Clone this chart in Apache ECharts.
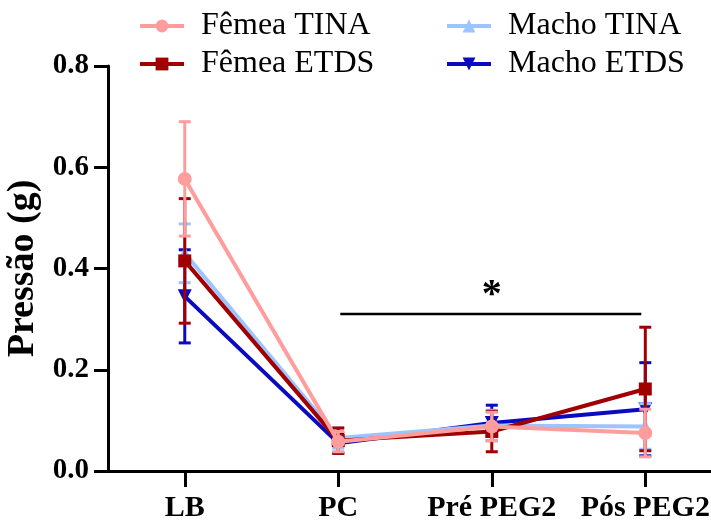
<!DOCTYPE html>
<html><head><meta charset="utf-8">
<script src="https://cdn.jsdelivr.net/npm/echarts@6/dist/echarts.min.js"></script>
<style>html,body{margin:0;padding:0;background:#fff}#c{width:711px;height:524px}</style>
</head><body><div id="c"></div>
<script>
const categories = ['LB', 'PC', 'Pré PEG2', 'Pós PEG2'];
const yTicks = [0, 0.2, 0.4, 0.6, 0.8];
const femeaTinaMean = [0.577, 0.058, 0.088, 0.075];
const femeaTinaErr  = [0.113, 0.020, 0.028, 0.047];
const femeaEtdsMean = [0.415, 0.060, 0.078, 0.162];
const femeaEtdsErr  = [0.123, 0.025, 0.040, 0.122];
const machoTinaMean = [0.430, 0.065, 0.090, 0.088];
const machoTinaErr  = [0.058, 0.020, 0.030, 0.045];
const machoEtdsMean = [0.345, 0.055, 0.095, 0.122];
const machoEtdsErr  = [0.092, 0.020, 0.035, 0.092];
const sigFrom = 1, sigTo = 3, sigLevel = 0.31, sigText = '*';

const FONT = 'Liberation Serif';
const groups = [
  {name: 'Macho ETDS', mean: machoEtdsMean, err: machoEtdsErr, color: '#0a0ac0', symbol: 'triangle', rotate: 180, z: 2},
  {name: 'Macho TINA', mean: machoTinaMean, err: machoTinaErr, color: '#9cc4ff', symbol: 'triangle', rotate: 0, z: 3},
  {name: 'Fêmea ETDS', mean: femeaEtdsMean, err: femeaEtdsErr, color: '#a00000', symbol: 'rect', rotate: 0, z: 4},
  {name: 'Fêmea TINA', mean: femeaTinaMean, err: femeaTinaErr, color: '#ff9d9d', symbol: 'circle', rotate: 0, z: 5}
];
const catIdx = categories.map((c, i) => i);

const series = [];
groups.forEach(g => {
  series.push({
    type: 'custom', name: g.name + ' err', z: g.z,
    data: g.mean.map((m, i) => [i, m, g.err[i]]),
    encode: {x: 0, y: 1},
    renderItem: function (params, api) {
      const x = api.value(0), m = api.value(1), e = api.value(2);
      const top = api.coord([x, m + e]);
      const bot = api.coord([x, m - e]);
      const cw = 6;
      const st = {stroke: g.color, lineWidth: 3};
      return {type: 'group', children: [
        {type: 'line', shape: {x1: top[0], y1: top[1], x2: bot[0], y2: bot[1]}, style: st},
        {type: 'line', shape: {x1: top[0] - cw, y1: top[1], x2: top[0] + cw, y2: top[1]}, style: st},
        {type: 'line', shape: {x1: bot[0] - cw, y1: bot[1], x2: bot[0] + cw, y2: bot[1]}, style: st}
      ]};
    },
    silent: true
  });
  series.push({
    type: 'line', name: g.name, z: g.z,
    data: g.mean.map((m, i) => [i, m]),
    symbol: g.symbol, symbolRotate: g.rotate,
    symbolSize: g.symbol === 'rect' ? 13 : 14,
    lineStyle: {color: g.color, width: 4},
    itemStyle: {color: g.color},
    animation: false
  });
});

series.push({
  type: 'custom', name: 'sig', z: 6, silent: true,
  data: [[sigFrom, sigTo, sigLevel]],
  renderItem: function (params, api) {
    const a = api.coord([api.value(0), api.value(2)]);
    const b = api.coord([api.value(1), api.value(2)]);
    return {type: 'group', children: [
      {type: 'line', shape: {x1: a[0] + 2, y1: a[1], x2: b[0] - 4, y2: b[1]}, style: {stroke: '#000', lineWidth: 2.5}},
      {type: 'text', x: (a[0] + b[0]) / 2, y: a[1] + 2, style: {text: sigText, font: 'bold 40px Liberation Serif', fill: '#000', textAlign: 'center', textVerticalAlign: 'bottom'}}
    ]};
  }
});

const legendCommon = {
  orient: 'vertical', top: 5, itemWidth: 44, itemHeight: 16, itemGap: 6,
  lineStyle: {width: 4},
  textStyle: {fontFamily: FONT, fontSize: 32, color: '#000', lineHeight: 32, padding: [0, 0, 0, 12]},
  selectedMode: false
};

const chart = echarts.init(document.getElementById('c'), null, {renderer: 'canvas'});
chart.setOption({
  animation: false,
  backgroundColor: '#fff',
  legend: [
    Object.assign({}, legendCommon, {left: 133, data: ['Fêmea TINA', 'Fêmea ETDS']}),
    Object.assign({}, legendCommon, {left: 440, data: ['Macho TINA', 'Macho ETDS']})
  ],
  grid: {left: 108, top: 66, bottom: 53, right: 0, containLabel: false, outerBoundsMode: 'none'},
  xAxis: {
    type: 'value', min: -0.5, max: 3.428,
    splitLine: {show: false},
    axisLine: {onZero: false, lineStyle: {color: '#000', width: 3}},
    axisTick: {customValues: catIdx, length: 16, lineStyle: {color: '#000', width: 3}},
    axisLabel: {customValues: catIdx, color: '#000', fontFamily: FONT, fontWeight: 'bold', fontSize: 30, margin: 22,
      formatter: v => categories[Math.round(v)] || ''}
  },
  yAxis: {
    type: 'value', min: yTicks[0], max: yTicks[yTicks.length - 1], interval: 0.2,
    name: 'Pressão (g)', nameLocation: 'middle', nameGap: 56,
    nameTextStyle: {color: '#000', fontFamily: FONT, fontWeight: 'bold', fontSize: 38},
    axisLine: {show: true, onZero: false, lineStyle: {color: '#000', width: 3}},
    axisTick: {show: true, length: 14, lineStyle: {color: '#000', width: 3}},
    axisLabel: {color: '#000', fontFamily: FONT, fontWeight: 'bold', fontSize: 29, margin: 19, formatter: v => v.toFixed(1)},
    splitLine: {show: false}
  },
  series: series
});
</script>
</body></html>
